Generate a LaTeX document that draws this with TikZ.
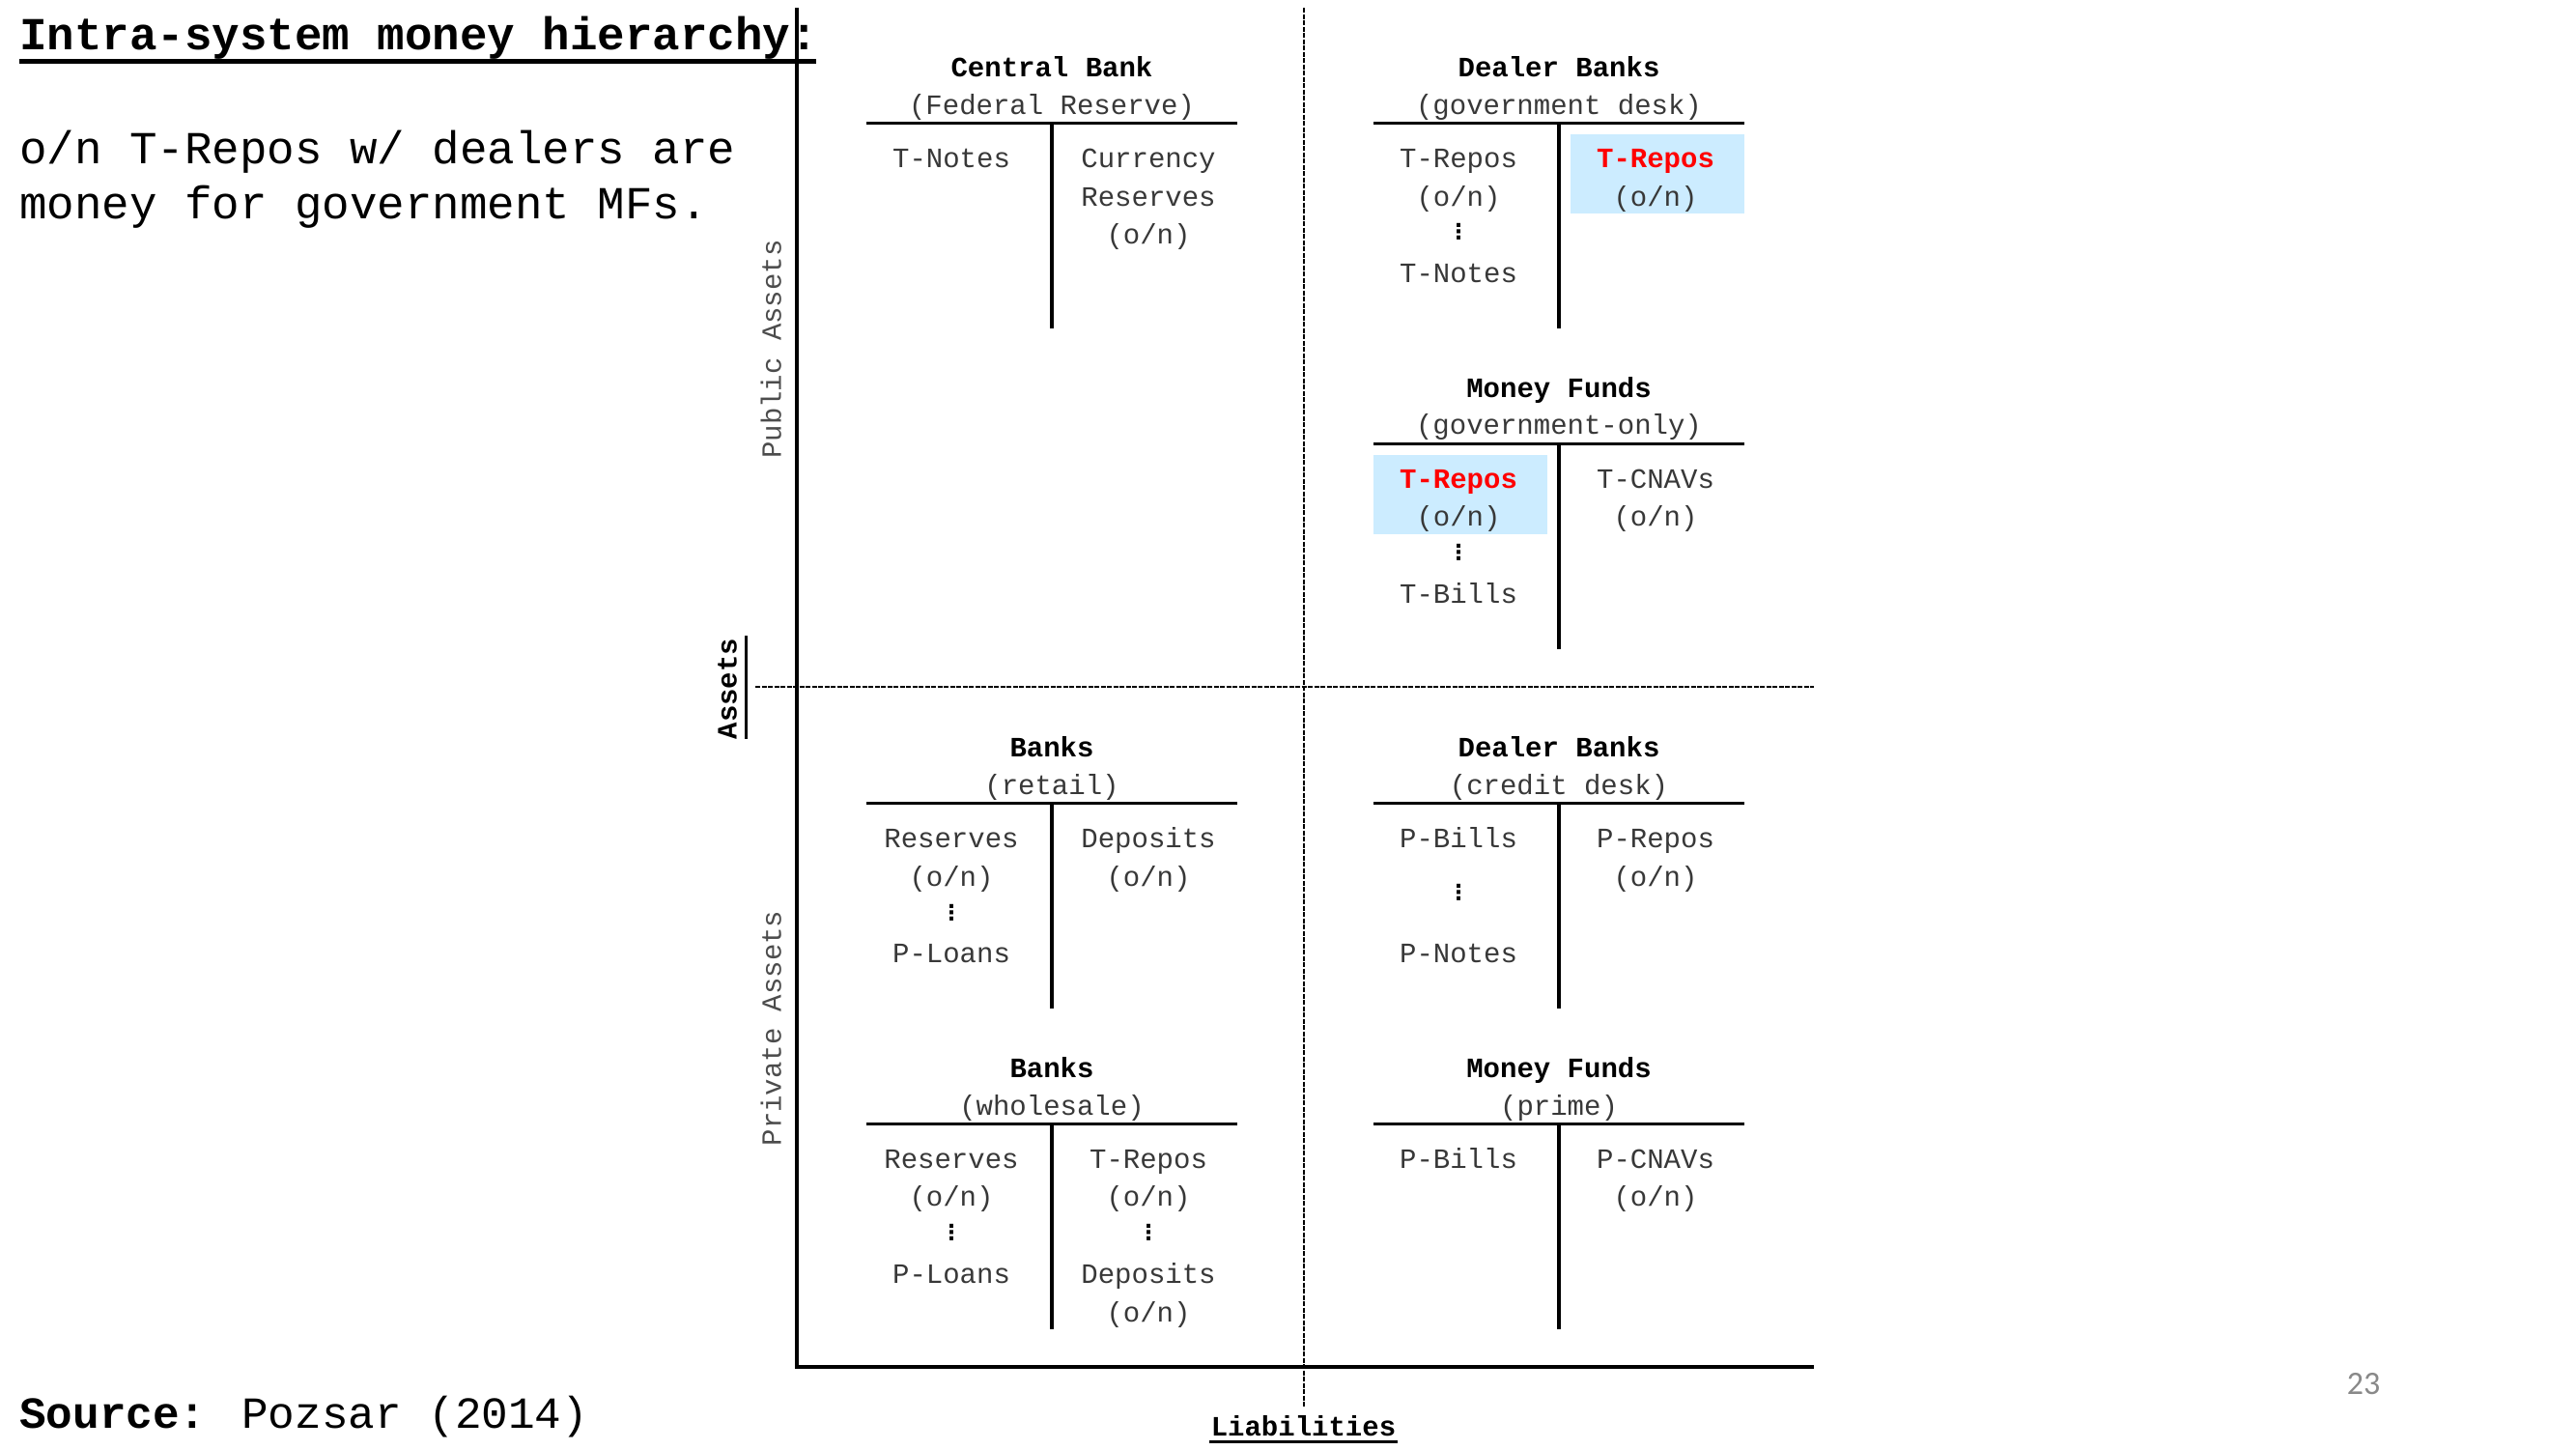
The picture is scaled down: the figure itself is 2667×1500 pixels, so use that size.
\documentclass[tikz,border=0pt]{standalone}
\usepackage{fontspec}
\setmainfont{Liberation Mono}
\newfontfamily\calibfont{Carlito}
\newfontfamily\dvsfont{DejaVu Sans}
\definecolor{hlblue}{RGB}{204,236,255}
\definecolor{pgnum}{RGB}{137,137,137}
\newcommand\tacct[5]{%
  \node[hd] (#1t) at (#2,#3+8.3) {#4};
  \node[ent] (#1s) at (#2,#3+46.9) {#5};
  \draw[tline] (#2-192,#3+57.8) -- (#2+192,#3+57.8);
  \draw[tline] (#2,#3+57.8) -- (#2,#3+270.4);
}
\begin{document}
\begin{tikzpicture}[x=1pt,y=-1pt,
  ent/.style={anchor=base,inner sep=0pt,yshift=-1.5pt,font=\fontsize{29}{29}\selectfont,text=black!78},
  hd/.style={anchor=base,inner sep=0pt,yshift=-1.5pt,font=\fontsize{29}{29}\selectfont\bfseries},
  hot/.style={hd,text=red},
  vd/.style={anchor=center,inner sep=0pt,yshift=-1.5pt,font=\dvsfont\bfseries\fontsize{22}{22}\selectfont},
  tline/.style={line width=3.4pt},
  axis/.style={line width=3.2pt},
  dsh/.style={line width=2.5pt,dash pattern=on 5pt off 1.5pt},
  big/.style={anchor=base west,inner sep=0pt,font=\fontsize{47.5}{47.5}\selectfont},
]
\useasboundingbox (0,0) rectangle (2667,1500);
\fill[white] (0,0) rectangle (2667,1500);

% headline and text
\node[big,font=\fontsize{47.5}{47.5}\selectfont\bfseries] (title) at (20,51) {Intra-system money hierarchy:};
\draw[line width=5pt] (20,63) -- (845,63);
\node[big] (body1) at (20,169) {o/n T-Repos w/ dealers are};
\node[big] (body2) at (20,226.5) {money for government MFs.};
\node[big,font=\fontsize{46}{46}\selectfont] (src) at (20,1478) {\textbf{Source:} Pozsar (2014)};
\node[anchor=base,inner sep=0pt,font=\calibfont\fontsize{34}{34}\selectfont,text=pgnum] (pg) at (2447,1443) {23};

% axes
\draw[dsh] (1350,8) -- (1350,1456);
\draw[dsh] (782,711) -- (1878,711);
\draw[axis] (825,8) -- (825,1415) -- (1878,1415);
\node[hd,rotate=90,yshift=1.5pt] (assets) at (764,711.5) {Assets};
\draw[line width=3pt] (772,658) -- (772,765);
\node[ent,rotate=90,yshift=1.5pt,text=black!70] (pub) at (810,360) {Public Assets};
\node[ent,rotate=90,yshift=1.5pt,text=black!70] (priv) at (810,1063) {Private Assets};
\node[hd] (liab) at (1349.5,1485) {Liabilities};
\draw[line width=3pt] (1252,1492.5) -- (1447,1492.5);

% highlights
\fill[hlblue] (1626,139.4) rectangle (1806,221.1);
\fill[hlblue] (1422,471.1) rectangle (1602,552.8);

% Central Bank
\tacct{cb}{1089}{69.7}{Central Bank}{(Federal Reserve)}
\node[ent] (cb1) at (985,171.8) {T-Notes};
\node[ent] (cb2) at (1189,171.8) {Currency};
\node[ent] (cb3) at (1189,211.5) {Reserves};
\node[ent] (cb4) at (1189,251.2) {(o/n)};

% Dealer Banks (government desk)
\tacct{dg}{1614}{69.7}{Dealer Banks}{(government desk)}
\node[ent] (dg1) at (1510,171.8) {T-Repos};
\node[ent] (dg2) at (1510,211.5) {(o/n)};
\node[vd] (dg3) at (1510,238.7) {⋮};
\node[ent] (dg4) at (1510,290.9) {T-Notes};
\node[hot] (dg5) at (1714,171.8) {T-Repos};
\node[ent] (dg6) at (1714,211.5) {(o/n)};

% Money Funds (government-only)
\tacct{mg}{1614}{401.4}{Money Funds}{(government-only)}
\node[hot] (mg1) at (1510,503.5) {T-Repos};
\node[ent] (mg2) at (1510,543.2) {(o/n)};
\node[vd] (mg3) at (1510,570.4) {⋮};
\node[ent] (mg4) at (1510,622.6) {T-Bills};
\node[ent] (mg5) at (1714,503.5) {T-CNAVs};
\node[ent] (mg6) at (1714,543.2) {(o/n)};

% Banks (retail)
\tacct{br}{1089}{773.9}{Banks}{(retail)}
\node[ent] (br1) at (985,876) {Reserves};
\node[ent] (br2) at (985,915.7) {(o/n)};
\node[vd] (br3) at (985,942.9) {⋮};
\node[ent] (br4) at (985,995.1) {P-Loans};
\node[ent] (br5) at (1189,876) {Deposits};
\node[ent] (br6) at (1189,915.7) {(o/n)};

% Dealer Banks (credit desk)
\tacct{dc}{1614}{773.9}{Dealer Banks}{(credit desk)}
\node[ent] (dc1) at (1510,876) {P-Bills};
\node[vd] (dc2) at (1510,921.9) {⋮};
\node[ent] (dc3) at (1510,995.1) {P-Notes};
\node[ent] (dc4) at (1714,876) {P-Repos};
\node[ent] (dc5) at (1714,915.7) {(o/n)};

% Banks (wholesale)
\tacct{bw}{1089}{1105.6}{Banks}{(wholesale)}
\node[ent] (bw1) at (985,1207.7) {Reserves};
\node[ent] (bw2) at (985,1247.4) {(o/n)};
\node[vd] (bw3) at (985,1274.6) {⋮};
\node[ent] (bw4) at (985,1326.8) {P-Loans};
\node[ent] (bw5) at (1189,1207.7) {T-Repos};
\node[ent] (bw6) at (1189,1247.4) {(o/n)};
\node[vd] (bw7) at (1189,1274.6) {⋮};
\node[ent] (bw8) at (1189,1326.8) {Deposits};
\node[ent] (bw9) at (1189,1366.5) {(o/n)};

% Money Funds (prime)
\tacct{mp}{1614}{1105.6}{Money Funds}{(prime)}
\node[ent] (mp1) at (1510,1207.7) {P-Bills};
\node[ent] (mp2) at (1714,1207.7) {P-CNAVs};
\node[ent] (mp3) at (1714,1247.4) {(o/n)};
\end{tikzpicture}
\end{document}
